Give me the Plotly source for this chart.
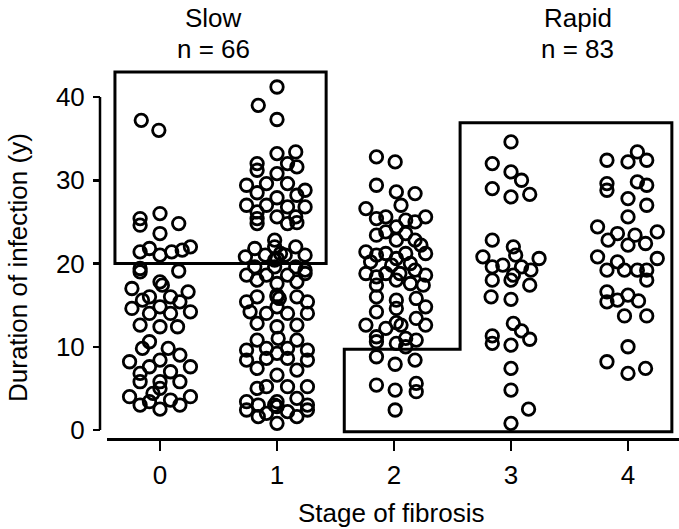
import plotly.graph_objects as go

# ---------------- data ----------------
stages = [0, 1, 2, 3, 4]
tick_labels = ["0", "1", "2", "3", "4"]
y_ticks = [0, 10, 20, 30, 40]

stage0_jitter = [-0.16, -0.01, -0.17, -0.17, 0.0, 0.16, 0.0, -0.17, -0.09, 0.0, 0.10, 0.19, 0.26,
                 -0.17, -0.17, 0.16, 0.0, 0.02, -0.24, 0.24, -0.09, -0.15, 0.09, 0.17, -0.24, 0.0,
                 0.26, -0.09, 0.09, -0.17, 0.0, 0.15, -0.09, -0.15, 0.07, 0.17, -0.26, 0.0, -0.09,
                 0.26, -0.17, 0.09, -0.17, 0.0, 0.17, 0.0, -0.06, -0.26, 0.26, -0.09, 0.09, -0.17,
                 0.17, 0.0]
stage0_duration = [37.2, 36.0, 25.4, 24.6, 26.0, 24.8, 23.6, 21.4, 21.8, 21.0, 21.4, 21.6, 22.0,
                   19.4, 19.0, 19.1, 17.8, 17.4, 17.0, 16.6, 16.0, 15.6, 16.0, 15.4, 14.6, 14.8,
                   14.2, 14.0, 14.0, 12.6, 12.4, 12.4, 10.6, 9.8, 9.8, 9.0, 8.2, 8.4, 7.6,
                   7.6, 6.8, 7.0, 5.8, 5.8, 5.8, 5.0, 4.4, 4.0, 4.0, 3.4, 3.6, 3.0,
                   3.0, 2.5]

stage1_jitter = [0.0, -0.16, 0.0, 0.0, 0.16, -0.17, -0.17, 0.09, 0.17, 0.0, -0.26, -0.09, 0.09,
                 0.24, -0.17, 0.0, 0.17, -0.26, -0.09, 0.09, 0.24, -0.17, -0.17, -0.17, 0.0, 0.16,
                 0.09, 0.17, -0.19, -0.02, -0.02, 0.16, 0.24, -0.27, -0.10, 0.07, -0.02, -0.19,
                 -0.02, 0.16, 0.24, -0.26, -0.09, 0.09, 0.24, -0.17, 0.0, 0.17, 0.0, -0.26, -0.17,
                 0.17, 0.26, -0.23, -0.09, 0.09, 0.26, 0.0, -0.17, 0.0, 0.17, -0.17, 0.01, 0.17,
                 -0.26, -0.09, 0.09, 0.26, 0.0, -0.26, -0.09, 0.09, 0.26, -0.17, 0.0, 0.17, -0.17,
                 -0.09, 0.09, 0.26, -0.26, -0.16, 0.0, 0.17, 0.26, -0.26, -0.09, 0.09, 0.26, 0.0,
                 -0.16, 0.17, 0.0, 0.02, 0.0, 0.03, 0.0, -0.02]
stage1_duration = [41.2, 39.0, 37.3, 33.2, 33.4, 32.0, 31.2, 32.0, 31.6, 30.8, 29.4, 29.6, 29.6,
                   28.8, 28.5, 27.9, 28.2, 27.0, 27.0, 26.8, 26.8, 26.2, 25.4, 24.8, 25.6, 25.6,
                   24.8, 24.9, 21.8, 22.8, 22.0, 22.0, 21.0, 20.8, 21.0, 21.0, 20.4, 19.6,
                   19.6, 19.6, 19.2, 18.6, 18.6, 18.6, 18.8, 18.0, 17.6, 17.8, 16.0, 15.4, 16.0,
                   16.0, 15.4, 14.2, 14.0, 14.0, 14.0, 14.8, 12.8, 12.4, 12.6, 10.8, 11.0, 10.8,
                   9.6, 9.8, 9.8, 9.6, 9.2, 8.4, 8.6, 8.6, 8.4, 7.4, 6.6, 7.2, 5.0,
                   5.2, 5.2, 5.2, 3.4, 3.0, 3.4, 3.8, 3.0, 2.4, 2.0, 2.2, 2.4, 0.8,
                   1.6, 1.6, 16.2, 15.8, 20.6, 21.2, 2.8, 3.0]

stage2_jitter = [-0.15, 0.01, -0.15, 0.02, 0.18, 0.06, -0.24, -0.15, -0.07, 0.10, 0.18, 0.27,
                 -0.15, 0.02, 0.18, 0.23, -0.24, -0.15, -0.07, 0.02, 0.10, 0.27, -0.24, -0.15,
                 -0.07, 0.05, 0.18, 0.27, -0.15, 0.02, 0.14, 0.25, -0.15, 0.02, 0.19, 0.27,
                 -0.15, 0.02, -0.24, -0.07, 0.02, 0.06, 0.19, 0.27, -0.15, -0.15, 0.02, 0.10,
                 0.10, 0.19, -0.15, 0.01, 0.18, -0.15, 0.01, 0.19, 0.19, 0.01,
                 -0.07, 0.10, 0.02, -0.02, 0.14, -0.20]
stage2_duration = [32.8, 32.2, 29.4, 28.6, 28.4, 27.0, 26.6, 25.4, 25.6, 25.2, 25.0, 25.6,
                   23.4, 22.8, 22.8, 22.2, 21.4, 21.0, 21.2, 20.6, 21.2, 21.2, 18.8, 18.4,
                   18.8, 18.8, 19.2, 18.6, 17.4, 18.0, 17.6, 17.4, 16.0, 15.6, 15.8, 14.8,
                   14.2, 14.6, 12.6, 12.2, 12.9, 12.6, 13.4, 12.6, 11.2, 10.6, 10.4, 11.0,
                   10.0, 10.8, 8.8, 7.9, 8.4, 5.4, 4.8, 5.6, 4.6, 2.4,
                   23.8, 23.6, 24.4, 19.8, 20.0, 20.2]

stage3_jitter = [0.0, -0.16, 0.0, 0.09, -0.16, 0.0, 0.16, -0.16, 0.02, 0.04, -0.24, -0.16,
                 -0.07, 0.02, 0.09, 0.17, 0.24, -0.16, 0.16, 0.0, -0.17, 0.0, 0.02, 0.09,
                 0.16, -0.16, -0.16, 0.0, 0.0, 0.0, 0.15, 0.0]
stage3_duration = [34.6, 32.0, 31.0, 30.0, 29.0, 28.0, 28.3, 22.8, 22.0, 21.0, 20.8, 19.6,
                   19.8, 18.6, 19.6, 19.2, 20.6, 18.0, 17.4, 18.0, 16.0, 15.7, 12.8, 11.9,
                   10.9, 11.3, 10.4, 10.2, 7.4, 4.8, 2.5, 0.8]

stage4_jitter = [-0.18, 0.0, 0.08, 0.16, -0.18, -0.18, 0.08, 0.16, 0.0, 0.16, 0.0, -0.26,
                 -0.09, 0.06, 0.25, -0.17, 0.0, 0.15, -0.26, -0.09, -0.03, 0.08, 0.16, 0.16,
                 0.25, -0.18, -0.18, -0.18, -0.09, 0.0, 0.09, -0.03, 0.16, 0.0, -0.18, 0.0, 0.15]
stage4_duration = [32.4, 32.2, 33.4, 32.4, 29.6, 28.8, 29.8, 29.4, 27.8, 27.0, 25.6, 24.4,
                   23.6, 23.4, 23.8, 22.8, 22.2, 22.4, 20.8, 20.2, 19.2, 19.2, 19.2, 18.0,
                   20.6, 19.2, 16.6, 15.4, 15.6, 16.2, 15.5, 13.7, 13.7, 10.0, 8.2, 6.8, 7.4]

jitters = [stage0_jitter, stage1_jitter, stage2_jitter, stage3_jitter, stage4_jitter]
durations = [stage0_duration, stage1_duration, stage2_duration, stage3_duration, stage4_duration]

group_labels = ["Slow", "Rapid"]
group_counts = [66, 83]

# region outlines (data units)
slow_box = dict(x0=-0.385, x1=1.42, y0=20.0, y1=43.0)
rapid_x = [1.575, 1.575, 2.565, 2.565, 4.375, 4.375]
rapid_y = [-0.2, 9.7, 9.7, 36.9, 36.9, -0.2]

# ---------------- figure ----------------
FONT = "Liberation Sans, Arial, Helvetica, sans-serif"
FS = 26
W, H = 679, 529
ML, MT = 100, 60
PLOT_BOTTOM = 438
MR, MB = 0, H - PLOT_BOTTOM
PW, PH = W - ML - MR, H - MT - MB


def py(ref_y):               # pixel row -> paper y
    return (PLOT_BOTTOM - ref_y) / PH


def px(ref_x):               # pixel column -> paper x
    return (ref_x - ML) / PW


fig = go.Figure()
for s, jit, dur in zip(stages, jitters, durations):
    fig.add_trace(go.Scatter(
        x=[s + j for j in jit], y=dur, mode="markers",
        marker=dict(symbol="circle-open", size=12.5, color="black",
                    line=dict(width=2.8, color="black")),
        showlegend=False, hoverinfo="skip"))

fig.add_shape(type="rect", xref="x", yref="y", **slow_box,
              line=dict(color="black", width=3))
path = "M " + " L ".join(f"{x},{y}" for x, y in zip(rapid_x, rapid_y)) + " Z"
fig.add_shape(type="path", xref="x", yref="y", path=path,
              line=dict(color="black", width=3))
fig.add_shape(type="line", xref="paper", yref="y", x0=0, x1=0,
              y0=y_ticks[0], y1=y_ticks[-1], line=dict(color="black", width=2.5))

centers = [0.455, 3.57]
for c, lab, n in zip(centers, group_labels, group_counts):
    fig.add_annotation(x=c, xref="x", y=py(18), yref="paper",
                       text=lab, showarrow=False, yanchor="middle",
                       font=dict(family=FONT, size=FS, color="black"))
    fig.add_annotation(x=c, xref="x", y=py(49), yref="paper",
                       text=f"n = {n}", showarrow=False, yanchor="middle",
                       font=dict(family=FONT, size=FS, color="black"))

fig.add_annotation(x=px(18), xref="paper", y=py(268), yref="paper",
                   text="Duration of infection (y)", textangle=-90, showarrow=False,
                   xanchor="center", yanchor="middle",
                   font=dict(family=FONT, size=FS, color="black"))
fig.add_annotation(x=px(391), xref="paper", y=py(513), yref="paper",
                   text="Stage of fibrosis", showarrow=False,
                   xanchor="center", yanchor="middle",
                   font=dict(family=FONT, size=FS, color="black"))

fig.update_layout(
    width=W, height=H,
    margin=dict(l=ML, r=MR, t=MT, b=MB, pad=0),
    plot_bgcolor="white", paper_bgcolor="white",
    font=dict(family=FONT, size=FS, color="black"),
    xaxis=dict(domain=[px(107), 1],
               range=[(107 - 160) / 117.0, (679 - 160) / 117.0],
               tickvals=stages, ticktext=tick_labels,
               ticks="outside", ticklen=10, tickwidth=2.5, tickcolor="black",
               ticklabelstandoff=2,
               showline=True, linecolor="black", linewidth=2.5,
               showgrid=False, zeroline=False),
    yaxis=dict(anchor="free", position=0,
               range=[(430 - 438) / 8.325, (430 - 60) / 8.325],
               tickvals=y_ticks, ticks="outside", ticklen=7, tickwidth=2.5,
               tickcolor="black", ticklabelstandoff=3,
               showline=False, showgrid=False, zeroline=False),
)

fig.write_html("out.html",
               config={"displayModeBar": False, "staticPlot": True},
               post_script="document.body.style.margin='0';"
                           "document.body.style.overflow='hidden';")
